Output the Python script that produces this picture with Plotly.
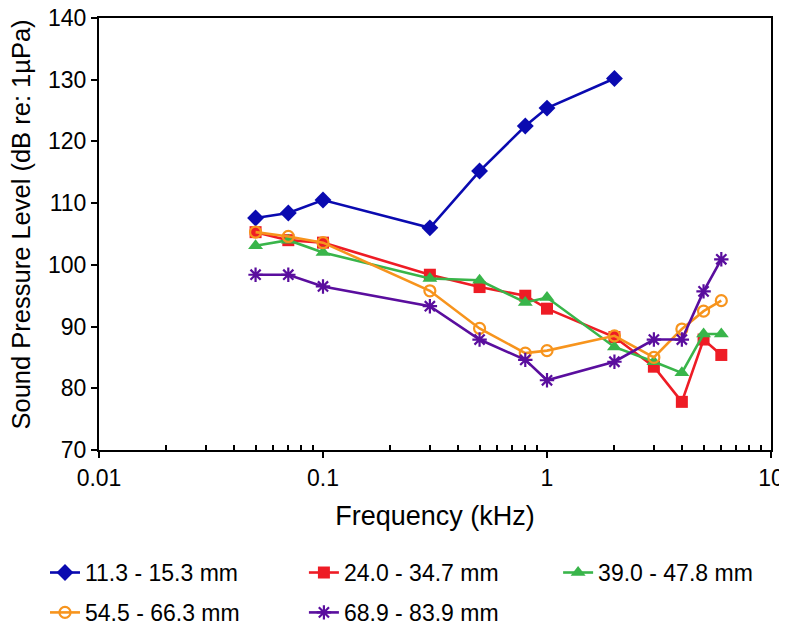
import plotly.graph_objects as go

freq_khz = [0.05, 0.07, 0.1, 0.3, 0.5, 0.8, 1, 2, 3, 4, 5, 6]
freq_blue = [0.05, 0.07, 0.1, 0.3, 0.5, 0.8, 1, 2]

spl_11_15 = [107.6, 108.4, 110.5, 106.0, 115.2, 122.5, 125.4, 130.2]
spl_24_35 = [105.3, 104.0, 103.6, 98.4, 96.4, 95.0, 92.9, 88.3, 83.5, 77.8, 87.9, 85.4]
spl_39_48 = [103.1, 104.0, 102.0, 97.8, 97.5, 93.9, 94.7, 86.7, 84.3, 82.5, 88.8, 88.8]
spl_54_66 = [105.3, 104.6, 103.6, 95.8, 89.7, 85.7, 86.1, 88.5, 85.0, 89.6, 92.5, 94.2]
spl_69_84 = [98.4, 98.4, 96.5, 93.3, 87.9, 84.6, 81.3, 84.3, 87.9, 87.9, 95.7, 100.9]

series_names = ["11.3 - 15.3 mm", "24.0 - 34.7 mm", "39.0 - 47.8 mm",
                "54.5 - 66.3 mm", "68.9 - 83.9 mm"]

x_ticks = [0.01, 0.1, 1, 10]
x_ticklabels = ["0.01", "0.1", "1", "10"]
x_minor = [0.02, 0.03, 0.04, 0.05, 0.06, 0.07, 0.08, 0.09,
           0.2, 0.3, 0.4, 0.5, 0.6, 0.7, 0.8, 0.9,
           2, 3, 4, 5, 6, 7, 8, 9]
y_ticks = [70, 80, 90, 100, 110, 120, 130, 140]

FONT = "Liberation Sans, Arial, Helvetica, sans-serif"

fig = go.Figure()

styles = [
    (freq_blue, spl_11_15, "#0a0ab0", dict(symbol="diamond", size=13), "legend"),
    (freq_khz, spl_24_35, "#ee1c25", dict(symbol="square", size=12), "legend2"),
    (freq_khz, spl_39_48, "#39b54a", dict(symbol="triangle-up", size=13), "legend3"),
    (freq_khz, spl_54_66, "#f7941d", dict(symbol="circle-open", size=11, line=dict(width=2.2)), "legend"),
    (freq_khz, spl_69_84, "#5a0e9e", dict(symbol="asterisk-open", size=12, line=dict(width=2.2)), "legend2"),
]

for i, ((xs, ys, col, mk, lg), name) in enumerate(zip(styles, series_names)):
    m = dict(color=col, **mk)
    if "line" in m:
        m["line"] = dict(color=col, **mk["line"])
    fig.add_trace(go.Scatter(x=xs, y=ys, mode="lines+markers", name=name,
                             legend=lg, legendgroup="g%d" % i,
                             line=dict(color=col, width=2.6), marker=m))

leg_common = dict(orientation="v", xref="container", yref="container",
                  xanchor="left", yanchor="top", y=0.138, tracegroupgap=7,
                  font=dict(size=23, family=FONT), bgcolor="rgba(0,0,0,0)")

fig.update_layout(
    width=787, height=630,
    margin=dict(l=91, r=24, t=10, b=188, autoexpand=False),
    paper_bgcolor="white", plot_bgcolor="white",
    font=dict(family=FONT, size=23, color="black"),
    showlegend=True,
    legend=dict(x=0.047, **leg_common),
    legend2=dict(x=0.376, **leg_common),
    legend3=dict(x=0.699, **leg_common),
    annotations=[dict(text="Sound Pressure Level (dB re: 1µPa)", textangle=-90,
                      xref="paper", yref="paper", x=-0.116, y=0.522,
                      xanchor="center", yanchor="middle", showarrow=False,
                      font=dict(size=25.5, family=FONT))],
)

fig.update_xaxes(
    type="log", range=[-2, 1],
    tickmode="array", tickvals=x_ticks, ticktext=x_ticklabels,
    ticks="outside", ticklen=6, tickwidth=2, tickcolor="black",
    showline=True, linecolor="black", linewidth=2, mirror=True,
    showgrid=False, zeroline=False, ticklabeloverflow="allow",
    tickfont=dict(size=23),
    minor=dict(tickmode="array", tickvals=x_minor, ticks="inside", ticklen=5,
               tickwidth=1.5, tickcolor="black", showgrid=False),
    title=dict(text="Frequency (kHz)", font=dict(size=27), standoff=17),
)
fig.update_yaxes(
    range=[70, 140], tickmode="array", tickvals=y_ticks,
    ticks="outside", ticklen=6, tickwidth=2, tickcolor="black",
    showline=True, linecolor="black", linewidth=2, mirror=True,
    showgrid=False, zeroline=False, ticklabeloverflow="allow",
    tickfont=dict(size=23),
)

fig.write_html("out.html")
